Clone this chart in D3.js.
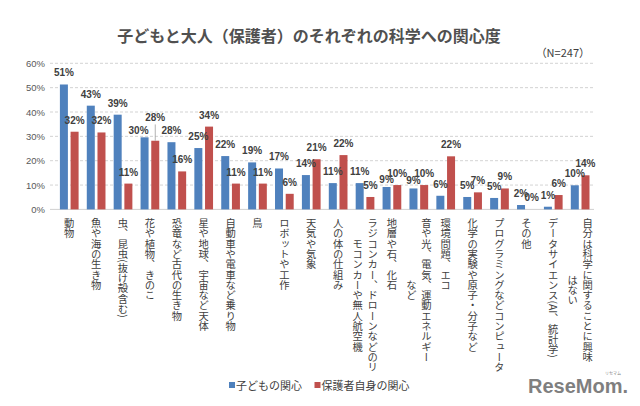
<!DOCTYPE html>
<html><head><meta charset="utf-8">
<script src="https://cdn.jsdelivr.net/npm/d3@7/dist/d3.min.js"></script>
<style>
html,body{margin:0;padding:0;background:#fff;}
svg{display:block;}
</style></head>
<body>
<svg id="chart" width="640" height="406"></svg>
<script>
// ---- data ----
const categories = ["動物","魚や海の生き物","虫、昆虫(抜け殻含む)","花や植物、きのこ","恐竜など古代の生き物","星や地球、宇宙など天体","自動車や電車など乗り物","鳥","ロボットや工作","天気や気象","人の体の仕組み","ラジコンカー、ドローンなどのリ\nモコンカーや無人航空機","地層や石、化石","音や光、電気、運動エネルギー\nなど","環境問題、エコ","化学の実験や原子・分子など","プログラミングなどコンピュータ","その他","データサイエンス(AI、統計学)","自分は科学に関することに興味\nはない"];
const seriesNames = ["子どもの関心","保護者自身の関心"];
const childValues  = [51.3,42.6,38.9,29.6,27.6,25.2,21.9,19.3,16.8,14.1,10.8,10.8,9.2,8.6,5.6,5.1,4.7,1.8,1.1,9.9];
const parentValues = [31.9,31.6,10.6,28.2,15.6,34.0,10.6,10.6,6.4,20.6,22.3,5.1,10.0,10.0,21.8,7.0,8.6,0.0,5.9,14.0];
const yTicks = [0,10,20,30,40,50,60];
const titleText = "子どもと大人（保護者）のそれぞれの科学への関心度";
const noteText = "（N=247）";
// manual label nudges (as in the original chart)
const labelNudges = [
  {s:0, i:3, dx:-6, dy:4.5},
  {s:1, i:3, dx:0, dy:-11.3, leader:true},
  {s:0, i:12, dx:0, dy:4},
  {s:0, i:13, dx:0, dy:3.3}
];

const colors = ["#4F81BD","#C0504D"];
const svg = d3.select("#chart");
const txtCol = "#404040";

const x0 = d3.scaleBand().domain(d3.range(categories.length)).range([55.8, 593.6]).padding(0);
const x1 = d3.scaleBand().domain([0,1]).range([0, x0.bandwidth()]).paddingInner(0.252).paddingOuter(0.383);
const y = d3.scaleLinear().domain([0, 60]).range([209.4, 63.3]);

// title
svg.append("text").attr("x", 309).attr("y", 42).attr("text-anchor","middle")
  .style("font-family","'Noto Sans CJK JP'").style("font-weight","bold").style("font-size","16px")
  .attr("fill","#505050").text(titleText);
svg.append("text").attr("x", 590).attr("y", 57).attr("text-anchor","end")
  .style("font-family","'Noto Sans CJK JP'").style("font-size","11px")
  .attr("fill",txtCol).text(noteText);

// gridlines
const gx0 = 50, gx1 = 594;
svg.append("g").selectAll("line").data(yTicks.filter(d=>d>0)).join("line")
  .attr("x1",gx0).attr("x2",gx1).attr("y1",d=>y(d)).attr("y2",d=>y(d))
  .attr("stroke","#c8c8c8").attr("stroke-width",0.8).attr("stroke-dasharray","3,2");
svg.append("line").attr("x1",gx0).attr("x2",gx1).attr("y1",y(0)).attr("y2",y(0))
  .attr("stroke","#d0d0d0").attr("stroke-width",1);

// y axis labels
const yAxis = d3.axisLeft(y).tickValues(yTicks).tickFormat(d=>d+"%").tickSize(0).tickPadding(0);
const ya = svg.append("g").attr("transform","translate(45,0)").call(yAxis);
ya.select(".domain").remove();
ya.selectAll("text").style("font-family","'Liberation Sans', Arial, sans-serif").style("font-size","9.5px").attr("fill","#595959");

// bars
const allVals = [childValues, parentValues];
allVals.forEach((vals, s) => {
  svg.append("g").selectAll("rect").data(vals).join("rect")
    .attr("x",(d,i)=>x0(i)+x1(s)).attr("width",x1.bandwidth())
    .attr("y",d=>y(d)).attr("height",d=>y(0)-y(d))
    .attr("fill",colors[s]);
});

// data labels
allVals.forEach((vals, s) => {
  vals.forEach((v,i) => {
    const n = labelNudges.find(o=>o.s===s && o.i===i) || {dx:0,dy:0};
    const cx = x0(i)+x1(s)+x1.bandwidth()/2;
    const ly = y(v) - 8 + n.dy;
    svg.append("text").attr("x", cx + n.dx).attr("y", ly).attr("text-anchor","middle")
      .style("font-family","'Liberation Sans', Arial, sans-serif").style("font-weight","bold").style("font-size","10px")
      .attr("fill",txtCol).text(Math.round(v)+"%");
    if (n.leader) {
      svg.append("line").attr("x1",cx).attr("x2",cx).attr("y1",ly+3).attr("y2",y(v))
        .attr("stroke","#a0a0a0").attr("stroke-width",0.8);
    }
  });
});

// category labels (vertical)
const labG = svg.append("g");
categories.forEach((c,i) => {
  const lines = c.split("\n");
  const cx = x0(i) + x0.bandwidth()/2;
  const spacing = 15;
  const top = 218;
  const nodes = [];
  lines.forEach((ln,k) => {
    const off = (lines.length-1)/2 * spacing - k*spacing;
    const t = labG.append("text").attr("x", cx + off).attr("y", top)
      .style("writing-mode","vertical-rl").style("text-orientation","mixed")
      .style("font-family","'Noto Sans CJK JP'").style("font-size","10.3px")
      .attr("fill",txtCol).text(ln);
    nodes.push(t);
  });
  if (nodes.length > 1) {
    const L0 = nodes[0].node().getComputedTextLength();
    nodes.forEach((t,k) => { if (k>0) { const L = t.node().getComputedTextLength(); t.attr("y", top + (L0-L)/2); } });
  }
});

// legend
const lg = svg.append("g");
const legendX = [229, 314.5];
seriesNames.forEach((nm,s) => {
  lg.append("rect").attr("x",legendX[s]).attr("y",382).attr("width",6).attr("height",6).attr("fill",colors[s]);
  lg.append("text").attr("x",legendX[s]+7).attr("y",389.5)
    .style("font-family","'Noto Sans CJK JP'").style("font-size","11px").attr("fill",txtCol).text(nm);
});

// logo
svg.append("text").attr("x",528).attr("y",393)
  .style("font-family","'Liberation Sans', Arial, sans-serif").style("font-weight","bold").style("font-size","20px")
  .attr("fill","#7f7f7f").text("ReseMom.");
svg.append("text").attr("x",613).attr("y",375).attr("text-anchor","middle")
  .style("font-family","'Noto Sans CJK JP'").style("font-size","4px").attr("fill","#7f7f7f").text("リセマム");
</script>
</body></html>
